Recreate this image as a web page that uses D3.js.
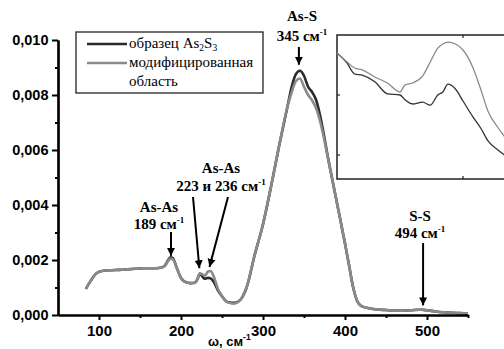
<!DOCTYPE html>
<html>
<head>
<meta charset="utf-8">
<script src="https://cdn.jsdelivr.net/npm/d3@7"></script>
<style>
body { margin: 0; background: #fff; }
</style>
</head>
<body>
<script>
// wavenumbers, cm-1
var waveNumbers = [84, 90, 97, 105, 115, 125, 135, 145, 155, 165, 175, 180, 184, 187, 190, 195, 200, 207, 212, 217,
    220, 223, 226, 229, 233, 236, 240, 245, 250, 255, 260, 265, 270, 275, 280, 290, 300, 310, 320, 330,
    335, 340, 345, 350, 355, 360, 365, 370, 380, 390, 400, 405, 410, 415, 420, 430, 440, 450, 460, 470,
    480, 490, 494, 500, 510, 520, 530, 540, 550];
var sampleValues = [0.00095, 0.00125, 0.00152, 0.00161, 0.00163, 0.00164, 0.00166, 0.00168, 0.0017, 0.0017, 0.00172, 0.00178, 0.00198, 0.0021, 0.00207, 0.0017, 0.00135, 0.00118, 0.00116, 0.00117,
    0.0013, 0.0015, 0.0014, 0.00132, 0.00135, 0.00133, 0.0012, 0.0009, 0.00068, 0.0005, 0.00045, 0.00044, 0.00049, 0.00066, 0.001, 0.0022, 0.0033, 0.0047, 0.0062, 0.0076,
    0.0083, 0.00875, 0.00888, 0.0087, 0.0083, 0.0081, 0.0078, 0.0072, 0.0056, 0.0041, 0.0026, 0.0018, 0.001, 0.0005, 0.00032, 0.00024, 0.0002, 0.00018, 0.00016, 0.00016,
    0.00017, 0.00019, 0.00019, 0.00017, 0.00013, 0.0001, 0.00008, 0.00007, 0.00006];
var modifiedValues = [0.00095, 0.00125, 0.00152, 0.00161, 0.00163, 0.00164, 0.00166, 0.00168, 0.0017, 0.0017, 0.00172, 0.00178, 0.00195, 0.00205, 0.00203, 0.0017, 0.00135, 0.00118, 0.00116, 0.00117,
    0.0013, 0.00152, 0.00148, 0.00143, 0.00158, 0.0016, 0.0014, 0.00095, 0.00068, 0.0005, 0.00044, 0.00042, 0.00048, 0.00065, 0.001, 0.0022, 0.0033, 0.0047, 0.0062, 0.0076,
    0.0081, 0.0085, 0.0086, 0.0083, 0.008, 0.0078, 0.0075, 0.007, 0.0056, 0.0041, 0.0026, 0.0018, 0.001, 0.0005, 0.00032, 0.00024, 0.0002, 0.00018, 0.00016, 0.00016,
    0.00017, 0.00019, 0.00019, 0.00017, 0.00013, 0.0001, 0.00008, 0.00007, 0.00006];

var xTicks = [100, 200, 300, 400, 500];
var xMinorTicks = [150, 250, 350, 450, 550];
var yTicks = [0, 0.002, 0.004, 0.006, 0.008, 0.010];
var yMinorTicks = [0.001, 0.003, 0.005, 0.007, 0.009];

// inset: S-S region magnified
var insetWave = [450, 454, 457, 460, 465, 470, 475, 477, 480, 484, 487, 490, 492, 494, 497, 500, 504, 507, 510, 514, 518, 522, 526];
var insetSample = [0.000270, 0.000253, 0.000235, 0.000233, 0.000222, 0.000202, 0.000200, 0.000192, 0.000185, 0.000188, 0.000183, 0.000200, 0.000205, 0.000218, 0.000210, 0.000190, 0.000163, 0.000145, 0.000123, 0.000108, 0.000095, 0.000080, 0.000075];
var insetModified = [0.000270, 0.000255, 0.000245, 0.000242, 0.000230, 0.000220, 0.000205, 0.000217, 0.000220, 0.000232, 0.000255, 0.000278, 0.000285, 0.000288, 0.000285, 0.000275, 0.000245, 0.000210, 0.000172, 0.000145, 0.000122, 0.000098, 0.000080];
var insetXTicks = [500];
var insetYTicks = [0.0001, 0.0002];

var legendLabels = ["образец As2S3", "модифицированная", "область"];
var annotations = [
    {top: "As-As", label: "189", x: 189},
    {top: "As-As", label: "223 и 236", x: 223},
    {top: "As-S", label: "345", x: 345},
    {top: "S-S", label: "494", x: 494}
];

var W = 504, H = 349;
var SERIF = "Liberation Serif";
var SANS = "Liberation Sans";
var x = d3.scaleLinear().domain([50, 550]).range([58, 468]);
var y = d3.scaleLinear().domain([0, 0.010]).range([315, 40]);
var fmt = function(d) { return d3.format(".3f")(d).replace(".", ","); };

var svg = d3.select("body").append("svg")
        .attr("width", W)
        .attr("height", H);

svg.append("defs").append("marker")
        .attr("id", "head")
        .attr("viewBox", "0 0 10 10")
        .attr("refX", 10).attr("refY", 5)
        .attr("markerWidth", 4).attr("markerHeight", 4.5)
        .attr("markerUnits", "strokeWidth")
        .attr("orient", "auto")
        .append("path").attr("d", "M0,0 L10,5 L0,10 z").attr("fill", "#000");

function drawCurve(g, xs, ys, sx, sy, color, width) {
    var line = d3.line()
            .x(function(d, i) { return sx(xs[i]); })
            .y(function(d) { return sy(d); })
            .curve(d3.curveMonotoneX);
    g.append("path")
            .attr("d", line(ys))
            .attr("fill", "none")
            .attr("stroke", color)
            .attr("stroke-width", width)
            .attr("stroke-linejoin", "round");
}

drawCurve(svg, waveNumbers, sampleValues, x, y, "#2a2a2a", 2.6);
drawCurve(svg, waveNumbers, modifiedValues, x, y, "#8a8a8a", 2.6);

// axes
var xAxis = svg.append("g").attr("transform", "translate(0,315)")
        .call(d3.axisBottom(x).tickValues(xTicks).tickSize(5).tickPadding(5.5).tickSizeOuter(0));
svg.append("g").attr("transform", "translate(0,315)")
        .call(d3.axisBottom(x).tickValues(xMinorTicks).tickSize(3).tickFormat("").tickSizeOuter(0));
var yAxis = svg.append("g").attr("transform", "translate(58,0)")
        .call(d3.axisLeft(y).tickValues(yTicks).tickSize(6).tickPadding(3.5).tickFormat(fmt).tickSizeOuter(0));
svg.append("g").attr("transform", "translate(58,0)")
        .call(d3.axisLeft(y).tickValues(yMinorTicks).tickSize(3).tickFormat("").tickSizeOuter(0));

svg.selectAll(".domain").attr("stroke", "#000").attr("stroke-width", 2.2);
svg.selectAll(".tick line").attr("stroke", "#000").attr("stroke-width", 2);
xAxis.selectAll("text").attr("font-family", SANS).attr("font-size", 15).attr("font-weight", "bold").attr("fill", "#000");
yAxis.selectAll("text").attr("font-family", SANS).attr("font-size", 14.5).attr("font-weight", "bold").attr("fill", "#000");

var xTitle = svg.append("text").attr("font-family", SANS).attr("x", 208).attr("y", 346)
        .attr("font-size", 13).attr("font-weight", "bold").text("ω, см");
xTitle.append("tspan").attr("font-size", 8.5).attr("dy", -6).text("-1");

// annotations
function cm(textSel) {
    textSel.append("tspan").text(" см");
    textSel.append("tspan").attr("font-size", 9).attr("dy", -6).text("-1");
}
function annotate(cx, y1, y2, top, label) {
    svg.append("text").attr("font-family", SERIF).attr("x", cx).attr("y", y1).attr("text-anchor", "middle")
            .attr("font-weight", "bold").attr("font-size", 15).text(top);
    var t = svg.append("text").attr("font-family", SERIF).attr("x", cx).attr("y", y2).attr("text-anchor", "middle")
            .attr("font-weight", "bold").attr("font-size", 15).text(label);
    cm(t);
}
function arrow(x1, y1, x2, y2) {
    svg.append("line").attr("x1", x1).attr("y1", y1).attr("x2", x2).attr("y2", y2)
            .attr("stroke", "#000").attr("stroke-width", 2).attr("marker-end", "url(#head)");
}

var a = annotations;
annotate(159, 212, 229, a[0].top, a[0].label);
arrow(x(a[0].x) - 1, 232, x(a[0].x) - 1, y(0.00215));
annotate(221, 173, 191, a[1].top, a[1].label);
arrow(193, 197, x(a[1].x) - 0.5, y(0.0017));
arrow(228, 197, x(236) - 1, y(0.00175));
annotate(302, 21, 41, a[2].top, a[2].label);
arrow(x(a[2].x) - 1, 47, x(a[2].x) - 1, y(0.0091));
annotate(420, 221, 238, a[3].top, a[3].label);
arrow(x(a[3].x) + 1, 243, x(a[3].x) + 1, y(0.00035));

// legend
var leg = svg.append("g");
leg.append("rect").attr("x", 76).attr("y", 32).attr("width", 187).attr("height", 61)
        .attr("fill", "#fff").attr("stroke", "#222").attr("stroke-width", 1.3);
leg.append("line").attr("x1", 87).attr("x2", 127).attr("y1", 44).attr("y2", 44)
        .attr("stroke", "#2a2a2a").attr("stroke-width", 2.6);
leg.append("line").attr("x1", 87).attr("x2", 127).attr("y1", 63).attr("y2", 63)
        .attr("stroke", "#8a8a8a").attr("stroke-width", 2.6);
var t1 = leg.append("text").attr("font-family", SERIF).attr("x", 129).attr("y", 48).attr("font-size", 15);
t1.append("tspan").text("образец As");
t1.append("tspan").attr("font-size", 9.5).attr("dy", 3).text("2");
t1.append("tspan").attr("dy", -3).text("S");
t1.append("tspan").attr("font-size", 9.5).attr("dy", 3).text("3");
leg.append("text").attr("font-family", SERIF).attr("x", 129).attr("y", 67).attr("font-size", 15).text(legendLabels[1]);
leg.append("text").attr("font-family", SERIF).attr("x", 129).attr("y", 86).attr("font-size", 15).text(legendLabels[2]);

// inset
var ix = d3.scaleLinear().domain([450, 525]).range([337, 526]);
var iy = d3.scaleLinear().domain([0.00006, 0.0003]).range([179, 35]);
var inset = svg.append("g");
inset.append("rect").attr("x", 337).attr("y", 35).attr("width", 189).attr("height", 144)
        .attr("fill", "#fff").attr("stroke", "#222").attr("stroke-width", 1.5);
inset.selectAll(".ixt").data(insetXTicks).enter().append("line")
        .attr("x1", function(d) { return ix(d); }).attr("x2", function(d) { return ix(d); })
        .attr("y1", 35).attr("y2", 38).attr("stroke", "#222").attr("stroke-width", 1.2);
inset.selectAll(".ixb").data(insetXTicks).enter().append("line")
        .attr("x1", function(d) { return ix(d); }).attr("x2", function(d) { return ix(d); })
        .attr("y1", 179).attr("y2", 176).attr("stroke", "#222").attr("stroke-width", 1.2);
inset.selectAll(".iyt").data(insetYTicks).enter().append("line")
        .attr("x1", 337).attr("x2", 340)
        .attr("y1", function(d) { return iy(d); }).attr("y2", function(d) { return iy(d); })
        .attr("stroke", "#222").attr("stroke-width", 1.2);
drawCurve(inset, insetWave, insetSample, ix, iy, "#333", 1.3);
drawCurve(inset, insetWave, insetModified, ix, iy, "#8a8a8a", 1.3);
</script>
</body>
</html>
